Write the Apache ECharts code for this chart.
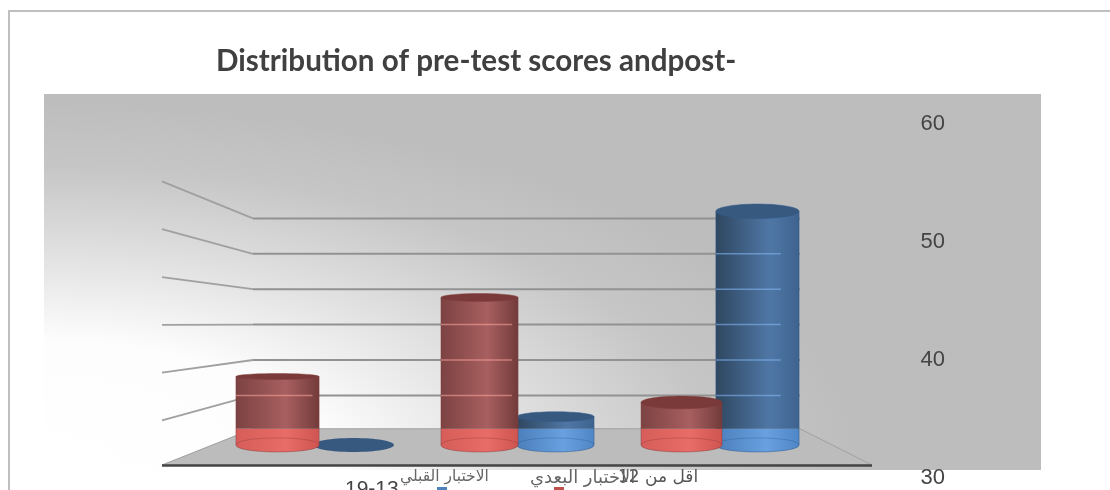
<!DOCTYPE html>
<html>
<head>
<meta charset="utf-8">
<title>Distribution of pre-test scores</title>
<style>
html, body { margin: 0; padding: 0; background: #fff; overflow: hidden; }
#main { width: 1110px; height: 490px; }
</style>
<script src="https://cdn.jsdelivr.net/npm/echarts@6/dist/echarts.min.js"></script>
</head>
<body>
<div id="main"></div>
<script>
var chartTitle = 'Distribution of pre-test scores andpost-';
var groups = ['19-13', '', 'اقل من 12'];
var preName = 'الاختبار القبلي';
var postName = 'الاختبار البعدي';
var preValues = [32.8, 35.2, 52.6];
var postValues = [38.6, 45.3, 36.4];
var yTicks = [30, 40, 50, 60];
var wallLevels = [34, 37, 40, 43, 46, 49, 52];
var floorValue = 32.8;

var myChart = echarts.init(document.getElementById('main'));

function grad(stops) {
    var list = [];
    for (var i = 0; i < stops.length; i++) {
        list.push({offset: stops[i][0], color: stops[i][1]});
    }
    return {type: 'linear', x: 0, y: 0, x2: 1, y2: 0, colorStops: list};
}

var redLook = {
    upper: grad([[0, '#7c4242'], [0.6, '#a85f5f'], [1, '#733b3b']]),
    lower: grad([[0, '#d65d59'], [0.6, '#e86c68'], [1, '#cf5551']]),
    top: '#7a3a3a',
    edge: 'rgba(130,60,60,0.45)',
    arc: 'rgba(130,50,50,0.3)',
    line: 'rgba(255,170,160,0.55)',
    lineTo: 0.92
};
var blueLook = {
    upper: grad([[0, '#2f4760'], [0.65, '#4f77a6'], [1, '#3f638f']]),
    lower: grad([[0, '#4a7fbb'], [0.6, '#68a0e0'], [1, '#4f86c6']]),
    top: '#37597f',
    edge: 'rgba(50,90,140,0.5)',
    arc: 'rgba(40,80,130,0.3)',
    line: 'rgba(130,180,240,0.6)',
    lineTo: 0.78
};

// cylinder, made from the value through the axes
function cylinder(look, side) {
    return function (params, api) {
        var cat = api.value(0);
        var band = api.size([1, 0])[0];
        var cx = api.coord([cat, 0])[0] + side * band * 0.188;
        var w = 76 + Math.abs(cx - 517) * 0.03;
        var l = cx - w / 2;
        var r = cx + w / 2;
        var top = api.coord([cat, api.value(1)])[1];
        var base = api.coord([cat, floorValue])[1];
        var back = api.coord([cat, wallLevels[0]])[1] - 2;
        var ry = 3 + Math.max(0, cx - 400) * 0.012;
        var k = 7 * 4 / 3;
        var kids = [];

        if (top >= base - 1) {
            // no height, only a flat disc on the floor
            kids.push({type: 'ellipse', shape: {cx: cx, cy: base, rx: w / 2, ry: 7}, style: {fill: look.top}});
            return {type: 'group', children: kids};
        }
        kids.push({
            type: 'path',
            shape: {pathData: 'M' + l + ' ' + back + 'L' + r + ' ' + back + 'L' + r + ' ' + base +
                'C' + r + ' ' + (base + k) + ' ' + l + ' ' + (base + k) + ' ' + l + ' ' + base + 'Z'},
            style: {fill: look.lower}
        });
        // only the far half of the base shows through
        kids.push({
            type: 'path',
            shape: {pathData: 'M' + l + ' ' + base + 'C' + l + ' ' + (base - k) + ' ' + r + ' ' + (base - k) + ' ' + r + ' ' + base},
            style: {fill: 'none', stroke: look.arc, lineWidth: 1}
        });
        kids.push({
            type: 'rect',
            shape: {x: l, y: top, width: w, height: back - top},
            style: {fill: look.upper}
        });
        kids.push({
            type: 'path',
            shape: {pathData: 'M' + l + ' ' + top + 'L' + l + ' ' + base +
                'C' + l + ' ' + (base + k) + ' ' + r + ' ' + (base + k) + ' ' + r + ' ' + base + 'L' + r + ' ' + top},
            style: {fill: 'none', stroke: look.edge, lineWidth: 1}
        });
        for (var i = 1; i < wallLevels.length; i++) {
            var y = api.coord([cat, wallLevels[i]])[1];
            if (y > top + ry) {
                kids.push({type: 'line', shape: {x1: l, y1: y, x2: l + w * look.lineTo, y2: y},
                    style: {stroke: look.line, lineWidth: 1.5}});
            }
        }
        kids.push({type: 'ellipse', shape: {cx: cx, cy: top, rx: w / 2, ry: ry},
            style: {fill: look.top, stroke: look.edge, lineWidth: 1}});
        return {type: 'group', children: kids};
    };
}

// back wall, side wall and floor
function wallLine(params, api) {
    var y = api.coord([0, api.value(1)])[1];
    var front = 324 + (y - 324) * 1.35;
    if (api.value(1) === wallLevels[0]) {
        return {
            type: 'group',
            children: [
                {type: 'polygon', shape: {points: [[162, 465], [872, 465], [800, y - 2], [253, y - 2]]},
                    style: {fill: '#bcbcbc', stroke: '#a0a0a0', lineWidth: 1}},
                {type: 'line', shape: {x1: 162, y1: 465.5, x2: 872, y2: 465.5},
                    style: {stroke: '#454545', lineWidth: 2.5}}
            ]
        };
    }
    return {
        type: 'group',
        children: [
            {type: 'line', shape: {x1: 253, y1: y, x2: 800, y2: y}, style: {stroke: '#929292', lineWidth: 2}},
            {type: 'line', shape: {x1: 162, y1: front, x2: 253, y2: y}, style: {stroke: '#a0a0a0', lineWidth: 1.8}}
        ]
    };
}

function pairs(arr) {
    var out = [];
    for (var i = 0; i < arr.length; i++) {
        out.push([i, arr[i]]);
    }
    return out;
}

var wallData = [];
for (var i = 0; i < wallLevels.length; i++) {
    wallData.push([0, wallLevels[i]]);
}

var option = {
    animation: false,
    backgroundColor: '#fff',
    title: {
        text: chartTitle,
        left: 211,
        top: 41,
        textStyle: {fontFamily: 'Lato', fontWeight: 'bold', fontSize: 29.6, color: '#404040'}
    },
    grid: {left: 214.5, width: 606, top: 124, height: 354},
    xAxis: {
        type: 'category',
        data: groups,
        axisLine: {show: false},
        axisTick: {show: false},
        axisLabel: {show: false},
        splitLine: {show: false}
    },
    yAxis: {
        type: 'value',
        position: 'right',
        min: yTicks[0],
        max: yTicks[yTicks.length - 1],
        interval: 10,
        axisLine: {show: false},
        axisTick: {show: false},
        splitLine: {show: false},
        axisLabel: {
            margin: 100,
            padding: [3, 0, 0, 0],
            fontFamily: 'Liberation Sans',
            fontSize: 22,
            color: '#444444'
        }
    },
    graphic: [
        {
            type: 'rect',
            z: -10,
            x: 44,
            y: 94,
            scaleY: 0.45,
            shape: {x: 0, y: 0, width: 997, height: 376 / 0.45},
            style: {
                fill: {
                    type: 'radial', x: 0, y: 376 / 0.45, r: 820, global: true,
                    colorStops: [
                        {offset: 0, color: '#ffffff'},
                        {offset: 0.35, color: '#fdfdfd'},
                        {offset: 0.6, color: '#dfdfdf'},
                        {offset: 0.82, color: '#c6c6c6'},
                        {offset: 1, color: '#bdbdbd'}
                    ]
                }
            }
        },
        {
            type: 'polyline',
            z: -9,
            shape: {points: [[9, 490], [9, 11], [1110, 11]]},
            style: {fill: 'none', stroke: '#bfbfbf', lineWidth: 2}
        },
        {type: 'rect', z: 5, shape: {x: 437, y: 487, width: 10, height: 3}, style: {fill: '#4f81bd'}},
        {type: 'rect', z: 5, shape: {x: 554, y: 487, width: 10, height: 3}, style: {fill: '#c0504d'}},
        {type: 'text', z: 6, x: 345, y: 479, style: {text: groups[0], font: '21px "Liberation Sans"', fill: '#444444'}},
        {type: 'text', z: 6, x: 618, y: 469, style: {text: groups[2], font: '17px "DejaVu Sans"', fill: '#555555'}},
        {type: 'text', z: 6, x: 400, y: 469, style: {text: preName, font: '15.5px "DejaVu Sans"', fill: '#666666'}},
        {type: 'text', z: 6, x: 530, y: 469, style: {text: postName, font: '18px "DejaVu Sans"', fill: '#666666'}}
    ],
    series: [
        {name: 'wall', type: 'custom', renderItem: wallLine, data: wallData, encode: {x: 0, y: 1}, silent: true},
        {name: preName, type: 'custom', renderItem: cylinder(blueLook, 1), data: pairs(preValues), encode: {x: 0, y: 1}},
        {name: postName, type: 'custom', renderItem: cylinder(redLook, -1), data: pairs(postValues), encode: {x: 0, y: 1}}
    ]
};
myChart.setOption(option);
</script>
</body>
</html>
